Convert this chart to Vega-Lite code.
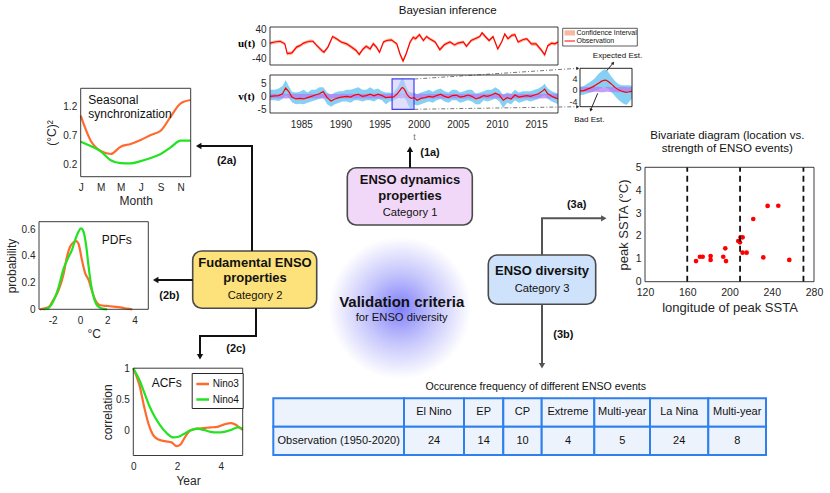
{
"$schema": "https://vega.github.io/schema/vega-lite/v6.json",
"width": 830, "height": 493,
"autosize": {"type": "none"},
"padding": 0,
"background": "white",
"config": {
  "view": {"stroke": null},
  "font": "Liberation Sans",
  "axis": {"grid": false, "ticks": false, "domain": false, "labelFont": "Liberation Sans", "labelFontSize": 10, "labelColor": "#262626", "titleFont": "Liberation Sans", "titleFontWeight": "normal", "titleFontSize": 12, "titleColor": "#262626", "labelFlush": false, "labelPadding": 4, "labelOverlap": false},
  "text": {"font": "Liberation Sans", "color": "#111111"}
},
"datasets": {
  "one": [{}],
  "glow": [{"x": 400, "y": 308}],
  "boxes": [
    {"id": "dyn", "x1": 347.3, "x2": 472.3, "y1": 167.7, "y2": 225},
    {"id": "fund", "x1": 192.7, "x2": 316.7, "y1": 251, "y2": 308.3},
    {"id": "div", "x1": 488.3, "x2": 595.7, "y1": 255, "y2": 304.3}
  ],
  "lg": [
    {"k": "box", "x1": 562.7, "x2": 637.3, "y1": 28.3, "y2": 46},
    {"k": "patch", "x1": 564.5, "x2": 575, "y1": 30.3, "y2": 35.5}
  ],
  "segs": [
    {"x": 410, "y": 167.7, "x2": 410, "y2": 150, "k": "k"},
    {"x": 252, "y": 251, "x2": 252, "y2": 146, "k": "k"},
    {"x": 253, "y": 146, "x2": 199, "y2": 146, "k": "k"},
    {"x": 192.7, "y": 280, "x2": 156, "y2": 280, "k": "k"},
    {"x": 256, "y": 308.3, "x2": 256, "y2": 336, "k": "k"},
    {"x": 257, "y": 336, "x2": 200, "y2": 336, "k": "k"},
    {"x": 200, "y": 335, "x2": 200, "y2": 357, "k": "k"},
    {"x": 542, "y": 255, "x2": 542, "y2": 218.3, "k": "g"},
    {"x": 541, "y": 218.3, "x2": 604, "y2": 218.3, "k": "g"},
    {"x": 542, "y": 304.3, "x2": 542, "y2": 366, "k": "g"},
    {"x": 605, "y": 72.7, "x2": 613, "y2": 63.2, "k": "s"},
    {"x": 597.7, "y": 93.3, "x2": 590.6, "y2": 110.3, "k": "s"},
    {"x": 414.3, "y": 79, "x2": 578, "y2": 68.3, "k": "d"},
    {"x": 414.3, "y": 109.3, "x2": 578, "y2": 106.7, "k": "d"},
    {"x": 564.5, "y": 41, "x2": 575, "y2": 41, "k": "r"}
  ],
  "heads": [
    {"x": 410, "y": 149.2, "ang": 0, "k": "k"},
    {"x": 198.7, "y": 146, "ang": 270, "k": "k"},
    {"x": 155.7, "y": 280, "ang": 270, "k": "k"},
    {"x": 200, "y": 356.8, "ang": 180, "k": "k"},
    {"x": 603.8, "y": 218.3, "ang": 90, "k": "g"},
    {"x": 542, "y": 365.8, "ang": 180, "k": "g"},
    {"x": 577.8, "y": 68.4, "ang": 86, "k": "s"},
    {"x": 577.8, "y": 106.7, "ang": 91, "k": "s"},
    {"x": 613.2, "y": 63, "ang": 40, "k": "s"},
    {"x": 590.7, "y": 110.1, "ang": 203, "k": "s"}
  ],
  "txt": [
    {"t": "Bayesian inference", "x": 447.7, "y": 11, "k": "ti"},
    {"t": "Bivariate diagram (location vs.", "x": 727.3, "y": 136, "k": "ti"},
    {"t": "strength of ENSO events)", "x": 727.3, "y": 149.3, "k": "ti"},
    {"t": "Occurence frequency of different ENSO events", "x": 535.7, "y": 386.7, "k": "tt"},
    {"t": "ENSO dynamics", "x": 410, "y": 180.3, "k": "bb"},
    {"t": "properties", "x": 410, "y": 195.7, "k": "bb"},
    {"t": "Fudamental ENSO", "x": 255, "y": 263.3, "k": "bb"},
    {"t": "properties", "x": 255, "y": 277.7, "k": "bb"},
    {"t": "ENSO diversity", "x": 542, "y": 270.7, "k": "bb"},
    {"t": "Category 1", "x": 410, "y": 212.7, "k": "bn"},
    {"t": "Category 2", "x": 255, "y": 296, "k": "bn"},
    {"t": "Category 3", "x": 542, "y": 289.3, "k": "bn"},
    {"t": "for ENSO diversity", "x": 401.7, "y": 317.7, "k": "bn"},
    {"t": "Validation criteria", "x": 401.7, "y": 301.7, "k": "vc"},
    {"t": "(1a)", "x": 430, "y": 152.7, "k": "lb"},
    {"t": "(2a)", "x": 226.7, "y": 160.7, "k": "lb"},
    {"t": "(2b)", "x": 169.3, "y": 295.7, "k": "lb"},
    {"t": "(2c)", "x": 236, "y": 349, "k": "lb"},
    {"t": "(3a)", "x": 576.7, "y": 205, "k": "lb"},
    {"t": "(3b)", "x": 563.3, "y": 335, "k": "lb"},
    {"t": "Expected Est.", "x": 617.5, "y": 55.7, "k": "sm"},
    {"t": "Bad Est.", "x": 589.3, "y": 120, "k": "sm"},
    {"t": "Confidence Interval", "x": 576.5, "y": 32.8, "k": "xs"},
    {"t": "Observation", "x": 576.5, "y": 41.3, "k": "xs"}
  ],
  "cells": [
    {"c0": 273.3, "c1": 404, "cx": 338.7, "r0": 398.3, "r1": 426.7, "cy": 412.3, "t": ""},
    {"c0": 404, "c1": 464, "cx": 434, "r0": 398.3, "r1": 426.7, "cy": 412.3, "t": "El Nino"},
    {"c0": 464, "c1": 503.3, "cx": 483.7, "r0": 398.3, "r1": 426.7, "cy": 412.3, "t": "EP"},
    {"c0": 503.3, "c1": 541.7, "cx": 522.5, "r0": 398.3, "r1": 426.7, "cy": 412.3, "t": "CP"},
    {"c0": 541.7, "c1": 594.3, "cx": 568, "r0": 398.3, "r1": 426.7, "cy": 412.3, "t": "Extreme"},
    {"c0": 594.3, "c1": 650, "cx": 622.2, "r0": 398.3, "r1": 426.7, "cy": 412.3, "t": "Multi-year"},
    {"c0": 650, "c1": 708.3, "cx": 679.2, "r0": 398.3, "r1": 426.7, "cy": 412.3, "t": "La Nina"},
    {"c0": 708.3, "c1": 766, "cx": 737.2, "r0": 398.3, "r1": 426.7, "cy": 412.3, "t": "Multi-year"},
    {"c0": 273.3, "c1": 404, "cx": 338.7, "r0": 426.7, "r1": 455, "cy": 440.5, "t": "Observation (1950-2020)"},
    {"c0": 404, "c1": 464, "cx": 434, "r0": 426.7, "r1": 455, "cy": 440.5, "t": "24"},
    {"c0": 464, "c1": 503.3, "cx": 483.7, "r0": 426.7, "r1": 455, "cy": 440.5, "t": "14"},
    {"c0": 503.3, "c1": 541.7, "cx": 522.5, "r0": 426.7, "r1": 455, "cy": 440.5, "t": "10"},
    {"c0": 541.7, "c1": 594.3, "cx": 568, "r0": 426.7, "r1": 455, "cy": 440.5, "t": "4"},
    {"c0": 594.3, "c1": 650, "cx": 622.2, "r0": 426.7, "r1": 455, "cy": 440.5, "t": "5"},
    {"c0": 650, "c1": 708.3, "cx": 679.2, "r0": 426.7, "r1": 455, "cy": 440.5, "t": "24"},
    {"c0": 708.3, "c1": 766, "cx": 737.2, "r0": 426.7, "r1": 455, "cy": 440.5, "t": "8"}
  ],
  "u": [
    {"yr": 1981.0, "u": 2, "lo": -3, "hi": 6}, {"yr": 1981.6, "u": 5, "lo": 0, "hi": 9},
    {"yr": 1982.3, "u": 7, "lo": 2, "hi": 11}, {"yr": 1982.9, "u": 0, "lo": -5, "hi": 4},
    {"yr": 1983.2, "u": -27, "lo": -32, "hi": -22}, {"yr": 1983.8, "u": -25, "lo": -30, "hi": -20},
    {"yr": 1984.4, "u": -9, "lo": -14, "hi": -4}, {"yr": 1984.8, "u": -5, "lo": -10, "hi": -1},
    {"yr": 1985.3, "u": 2, "lo": -3, "hi": 6}, {"yr": 1985.7, "u": 5, "lo": 0, "hi": 9},
    {"yr": 1986.1, "u": 7, "lo": 2, "hi": 12}, {"yr": 1986.5, "u": 7, "lo": 3, "hi": 11},
    {"yr": 1987.0, "u": -5, "lo": -10, "hi": -1}, {"yr": 1987.6, "u": -18, "lo": -24, "hi": -13},
    {"yr": 1987.9, "u": -23, "lo": -28, "hi": -18}, {"yr": 1988.4, "u": -9, "lo": -14, "hi": -4},
    {"yr": 1989.0, "u": 20, "lo": 15, "hi": 24}, {"yr": 1989.5, "u": 14, "lo": 9, "hi": 18},
    {"yr": 1990.1, "u": 5, "lo": 0, "hi": 9}, {"yr": 1990.8, "u": 0, "lo": -5, "hi": 4},
    {"yr": 1991.4, "u": -9, "lo": -14, "hi": -4}, {"yr": 1992.0, "u": -18, "lo": -23, "hi": -13},
    {"yr": 1992.4, "u": -29, "lo": -34, "hi": -24}, {"yr": 1992.9, "u": -14, "lo": -19, "hi": -9},
    {"yr": 1993.3, "u": -7, "lo": -12, "hi": -2}, {"yr": 1993.8, "u": -14, "lo": -20, "hi": -9},
    {"yr": 1994.2, "u": 0, "lo": -5, "hi": 5}, {"yr": 1994.6, "u": -9, "lo": -14, "hi": -4},
    {"yr": 1995.0, "u": -23, "lo": -28, "hi": -18}, {"yr": 1995.5, "u": 5, "lo": 0, "hi": 9},
    {"yr": 1995.9, "u": 9, "lo": 4, "hi": 13}, {"yr": 1996.5, "u": 11, "lo": 6, "hi": 15},
    {"yr": 1997.2, "u": 0, "lo": -5, "hi": 4}, {"yr": 1997.6, "u": -27, "lo": -33, "hi": -21},
    {"yr": 1998.0, "u": -47, "lo": -53, "hi": -41}, {"yr": 1998.4, "u": -27, "lo": -33, "hi": -21},
    {"yr": 1998.9, "u": 5, "lo": -1, "hi": 10}, {"yr": 1999.3, "u": 18, "lo": 12, "hi": 23},
    {"yr": 1999.6, "u": 14, "lo": 9, "hi": 19}, {"yr": 2000.1, "u": 25, "lo": 19, "hi": 30},
    {"yr": 2000.6, "u": 9, "lo": 4, "hi": 14}, {"yr": 2001.0, "u": 20, "lo": 15, "hi": 24},
    {"yr": 2001.4, "u": 14, "lo": 9, "hi": 18}, {"yr": 2002.1, "u": 5, "lo": 0, "hi": 9},
    {"yr": 2002.7, "u": -16, "lo": -21, "hi": -11}, {"yr": 2003.3, "u": -2, "lo": -7, "hi": 3},
    {"yr": 2004.0, "u": 5, "lo": 0, "hi": 9}, {"yr": 2004.6, "u": -3, "lo": -8, "hi": 1},
    {"yr": 2005.0, "u": 2, "lo": -3, "hi": 6}, {"yr": 2005.7, "u": 5, "lo": 0, "hi": 9},
    {"yr": 2006.1, "u": -7, "lo": -12, "hi": -2}, {"yr": 2006.7, "u": 9, "lo": 4, "hi": 13},
    {"yr": 2007.4, "u": 16, "lo": 11, "hi": 20}, {"yr": 2007.8, "u": 20, "lo": 15, "hi": 24},
    {"yr": 2008.1, "u": 30, "lo": 24, "hi": 34}, {"yr": 2008.6, "u": 18, "lo": 13, "hi": 22},
    {"yr": 2009.0, "u": 9, "lo": 4, "hi": 13}, {"yr": 2009.5, "u": 20, "lo": 15, "hi": 24},
    {"yr": 2010.1, "u": -14, "lo": -19, "hi": -9}, {"yr": 2010.6, "u": 5, "lo": 0, "hi": 9},
    {"yr": 2011.0, "u": 27, "lo": 22, "hi": 31}, {"yr": 2011.4, "u": 14, "lo": 9, "hi": 18},
    {"yr": 2011.9, "u": 23, "lo": 18, "hi": 28}, {"yr": 2012.3, "u": 25, "lo": 20, "hi": 30},
    {"yr": 2012.7, "u": 5, "lo": 0, "hi": 9}, {"yr": 2013.3, "u": 11, "lo": 6, "hi": 15},
    {"yr": 2013.8, "u": 14, "lo": 9, "hi": 18}, {"yr": 2014.4, "u": 0, "lo": -5, "hi": 5},
    {"yr": 2015.0, "u": 0, "lo": -6, "hi": 5}, {"yr": 2015.7, "u": -18, "lo": -24, "hi": -13},
    {"yr": 2016.1, "u": -30, "lo": -36, "hi": -25}, {"yr": 2016.5, "u": -5, "lo": -10, "hi": 0},
    {"yr": 2017.0, "u": 2, "lo": -3, "hi": 6}, {"yr": 2017.4, "u": 0, "lo": -5, "hi": 4},
    {"yr": 2017.8, "u": 5, "lo": 0, "hi": 9}
  ],
  "v": [
    {"yr": 1981.0, "v": 0, "lo": -1.5, "hi": 2.5, "plo": -0.8, "phi": 0.9},
    {"yr": 1981.6, "v": 0.2, "lo": -1.5, "hi": 2.5, "plo": -0.7, "phi": 1.0},
    {"yr": 1982.1, "v": 0.3, "lo": -1.8, "hi": 3, "plo": -0.8, "phi": 0.9},
    {"yr": 1982.6, "v": 1, "lo": -1, "hi": 4, "plo": -0.7, "phi": 1.0},
    {"yr": 1983.0, "v": 3.2, "lo": 0.5, "hi": 6.3, "plo": -0.8, "phi": 0.9},
    {"yr": 1983.4, "v": 1.8, "lo": -0.5, "hi": 4, "plo": -0.7, "phi": 1.0},
    {"yr": 1983.8, "v": -0.3, "lo": -2.3, "hi": 1.8, "plo": -0.8, "phi": 0.9},
    {"yr": 1984.3, "v": -1, "lo": -3, "hi": 1.5, "plo": -0.7, "phi": 1.0},
    {"yr": 1984.8, "v": -0.8, "lo": -2.8, "hi": 1.8, "plo": -0.8, "phi": 0.9},
    {"yr": 1985.3, "v": -1, "lo": -3, "hi": 2.5, "plo": -0.7, "phi": 1.0},
    {"yr": 1985.8, "v": -0.5, "lo": -2.5, "hi": 1.5, "plo": -0.8, "phi": 0.9},
    {"yr": 1986.3, "v": 0, "lo": -2, "hi": 2.5, "plo": -0.7, "phi": 1.0},
    {"yr": 1986.8, "v": 0.5, "lo": -1.5, "hi": 2.5, "plo": -0.8, "phi": 0.9},
    {"yr": 1987.3, "v": 1, "lo": -1, "hi": 3.5, "plo": -0.7, "phi": 1.0},
    {"yr": 1987.8, "v": 1.8, "lo": -0.5, "hi": 3.5, "plo": -0.8, "phi": 0.9},
    {"yr": 1988.3, "v": -0.5, "lo": -3, "hi": 1.5, "plo": -0.7, "phi": 1.0},
    {"yr": 1988.8, "v": -1.8, "lo": -4, "hi": 0.5, "plo": -0.8, "phi": 0.9},
    {"yr": 1989.3, "v": -1, "lo": -3, "hi": 1.5, "plo": -0.7, "phi": 1.0},
    {"yr": 1989.8, "v": -0.5, "lo": -2.5, "hi": 2, "plo": -0.8, "phi": 0.9},
    {"yr": 1990.3, "v": -0.2, "lo": -2, "hi": 2, "plo": -0.7, "phi": 1.0},
    {"yr": 1990.8, "v": 0, "lo": -2, "hi": 2.5, "plo": -0.8, "phi": 0.9},
    {"yr": 1991.3, "v": -0.3, "lo": -2.5, "hi": 2.5, "plo": -0.7, "phi": 1.0},
    {"yr": 1991.8, "v": 0.5, "lo": -1.5, "hi": 3, "plo": -0.8, "phi": 0.9},
    {"yr": 1992.3, "v": 0.8, "lo": -1.5, "hi": 3.5, "plo": -0.7, "phi": 1.0},
    {"yr": 1992.8, "v": 0, "lo": -2, "hi": 2.5, "plo": -0.8, "phi": 0.9},
    {"yr": 1993.3, "v": 0.3, "lo": -1.5, "hi": 2.5, "plo": -0.7, "phi": 1.0},
    {"yr": 1993.8, "v": 0.8, "lo": -1.5, "hi": 3.5, "plo": -0.8, "phi": 0.9},
    {"yr": 1994.3, "v": 0.2, "lo": -2, "hi": 2.5, "plo": -0.7, "phi": 1.0},
    {"yr": 1994.8, "v": 0.8, "lo": -1, "hi": 3, "plo": -0.8, "phi": 0.9},
    {"yr": 1995.3, "v": 0.3, "lo": -1.5, "hi": 2, "plo": -0.7, "phi": 1.0},
    {"yr": 1995.8, "v": -0.5, "lo": -3, "hi": 1.5, "plo": -0.8, "phi": 0.9},
    {"yr": 1996.3, "v": -0.3, "lo": -2, "hi": 1.5, "plo": -0.7, "phi": 1.0},
    {"yr": 1996.6, "v": -0.3, "lo": -1.8, "hi": 1.2, "plo": -0.8, "phi": 0.9},
    {"yr": 1996.8, "v": -0.2, "lo": -1.6, "hi": 1.4, "plo": -0.6, "phi": 1.1},
    {"yr": 1997.0, "v": 0.3, "lo": -1.2, "hi": 2.2, "plo": -0.7, "phi": 1.0},
    {"yr": 1997.2, "v": 0.8, "lo": -0.8, "hi": 3.0, "plo": -0.8, "phi": 0.8},
    {"yr": 1997.4, "v": 1.5, "lo": -0.3, "hi": 4.0, "plo": -0.6, "phi": 1.0},
    {"yr": 1997.6, "v": 2.3, "lo": 0.2, "hi": 5.5, "plo": -0.7, "phi": 1.1},
    {"yr": 1997.8, "v": 3.1, "lo": 0.8, "hi": 6.6, "plo": -0.8, "phi": 0.9},
    {"yr": 1997.95, "v": 3.4, "lo": 1.0, "hi": 7.0, "plo": -0.7, "phi": 1.0},
    {"yr": 1998.1, "v": 3.0, "lo": 0.5, "hi": 6.3, "plo": -0.6, "phi": 1.1},
    {"yr": 1998.3, "v": 2.0, "lo": -0.8, "hi": 4.5, "plo": -0.8, "phi": 0.9},
    {"yr": 1998.5, "v": 0.8, "lo": -2.2, "hi": 3.0, "plo": -0.7, "phi": 0.8},
    {"yr": 1998.7, "v": 0, "lo": -3.5, "hi": 2.0, "plo": -0.8, "phi": 1.0},
    {"yr": 1998.9, "v": -0.5, "lo": -4.5, "hi": 1.6, "plo": -0.7, "phi": 1.1},
    {"yr": 1999.1, "v": -0.8, "lo": -5.0, "hi": 1.6, "plo": -0.6, "phi": 1.0},
    {"yr": 1999.25, "v": -0.6, "lo": -4.0, "hi": 1.6, "plo": -0.8, "phi": 0.9},
    {"yr": 1999.4, "v": -0.5, "lo": -3, "hi": 1.4, "plo": -0.7, "phi": 1.0},
    {"yr": 1999.8, "v": -1.5, "lo": -3.5, "hi": 0.8, "plo": -0.8, "phi": 0.9},
    {"yr": 2000.3, "v": -0.8, "lo": -3, "hi": 1.5, "plo": -0.7, "phi": 1.0},
    {"yr": 2000.8, "v": -0.5, "lo": -2.5, "hi": 2, "plo": -0.8, "phi": 0.9},
    {"yr": 2001.3, "v": 0, "lo": -2, "hi": 2.5, "plo": -0.7, "phi": 1.0},
    {"yr": 2001.8, "v": -0.3, "lo": -2.5, "hi": 1.8, "plo": -0.8, "phi": 0.9},
    {"yr": 2002.3, "v": 0.3, "lo": -1.5, "hi": 2.5, "plo": -0.7, "phi": 1.0},
    {"yr": 2002.8, "v": 0.8, "lo": -1, "hi": 3, "plo": -0.8, "phi": 0.9},
    {"yr": 2003.3, "v": 0, "lo": -2, "hi": 2, "plo": -0.7, "phi": 1.0},
    {"yr": 2003.8, "v": -0.5, "lo": -2.5, "hi": 1.5, "plo": -0.8, "phi": 0.9},
    {"yr": 2004.3, "v": 0.3, "lo": -1.5, "hi": 2.5, "plo": -0.7, "phi": 1.0},
    {"yr": 2004.8, "v": 0.5, "lo": -1.5, "hi": 2.5, "plo": -0.8, "phi": 0.9},
    {"yr": 2005.3, "v": -0.3, "lo": -2.5, "hi": 1.5, "plo": -0.7, "phi": 1.0},
    {"yr": 2005.8, "v": 0, "lo": -2, "hi": 2, "plo": -0.8, "phi": 0.9},
    {"yr": 2006.3, "v": 0.5, "lo": -1.5, "hi": 2.5, "plo": -0.7, "phi": 1.0},
    {"yr": 2006.8, "v": 0, "lo": -2, "hi": 2.5, "plo": -0.8, "phi": 0.9},
    {"yr": 2007.3, "v": -1, "lo": -3, "hi": 1, "plo": -0.7, "phi": 1.0},
    {"yr": 2007.8, "v": -0.5, "lo": -3, "hi": 1.5, "plo": -0.8, "phi": 0.9},
    {"yr": 2008.3, "v": 0.3, "lo": -1.5, "hi": 2, "plo": -0.7, "phi": 1.0},
    {"yr": 2008.8, "v": 0, "lo": -2, "hi": 2.5, "plo": -0.8, "phi": 0.9},
    {"yr": 2009.3, "v": 0.5, "lo": -1.5, "hi": 2.5, "plo": -0.7, "phi": 1.0},
    {"yr": 2009.8, "v": 1.2, "lo": -0.8, "hi": 3.5, "plo": -0.8, "phi": 0.9},
    {"yr": 2010.3, "v": 0.5, "lo": -2, "hi": 2.5, "plo": -0.7, "phi": 1.0},
    {"yr": 2010.8, "v": -1.5, "lo": -4.5, "hi": 0.5, "plo": -0.8, "phi": 0.9},
    {"yr": 2011.3, "v": -0.5, "lo": -2.5, "hi": 1.5, "plo": -0.7, "phi": 1.0},
    {"yr": 2011.8, "v": -1, "lo": -3, "hi": 1, "plo": -0.8, "phi": 0.9},
    {"yr": 2012.3, "v": 0.5, "lo": -1.5, "hi": 2.5, "plo": -0.7, "phi": 1.0},
    {"yr": 2012.8, "v": -0.3, "lo": -2.5, "hi": 1.5, "plo": -0.8, "phi": 0.9},
    {"yr": 2013.3, "v": 0, "lo": -2, "hi": 2, "plo": -0.7, "phi": 1.0},
    {"yr": 2013.8, "v": 0.3, "lo": -1.5, "hi": 2, "plo": -0.8, "phi": 0.9},
    {"yr": 2014.3, "v": 0, "lo": -2, "hi": 2, "plo": -0.7, "phi": 1.0},
    {"yr": 2014.8, "v": 0.5, "lo": -1.5, "hi": 2.5, "plo": -0.8, "phi": 0.9},
    {"yr": 2015.3, "v": 1, "lo": -1, "hi": 3, "plo": -0.7, "phi": 1.0},
    {"yr": 2015.8, "v": 2, "lo": 0, "hi": 4, "plo": -0.8, "phi": 0.9},
    {"yr": 2016.1, "v": 2.8, "lo": 0.5, "hi": 4.8, "plo": -0.7, "phi": 1.0},
    {"yr": 2016.5, "v": 1, "lo": -1, "hi": 3, "plo": -0.8, "phi": 0.9},
    {"yr": 2017.0, "v": 0, "lo": -2, "hi": 2, "plo": -0.7, "phi": 1.0},
    {"yr": 2017.4, "v": -0.5, "lo": -2.5, "hi": 1.5, "plo": -0.8, "phi": 0.9},
    {"yr": 2017.8, "v": -1, "lo": -3, "hi": 1, "plo": -0.7, "phi": 1.0}
  ],
  "seas": [
    {"m": 1, "s": "Nino3", "v": 1.046}, {"m": 2, "s": "Nino3", "v": 0.613}, {"m": 3, "s": "Nino3", "v": 0.435},
    {"m": 4, "s": "Nino3", "v": 0.383}, {"m": 5, "s": "Nino3", "v": 0.51}, {"m": 6, "s": "Nino3", "v": 0.556},
    {"m": 7, "s": "Nino3", "v": 0.625}, {"m": 8, "s": "Nino3", "v": 0.711}, {"m": 9, "s": "Nino3", "v": 0.786},
    {"m": 10, "s": "Nino3", "v": 1.029}, {"m": 11, "s": "Nino3", "v": 1.26}, {"m": 12, "s": "Nino3", "v": 1.317},
    {"m": 1, "s": "Nino4", "v": 0.596}, {"m": 2, "s": "Nino4", "v": 0.521}, {"m": 3, "s": "Nino4", "v": 0.43},
    {"m": 4, "s": "Nino4", "v": 0.275}, {"m": 5, "s": "Nino4", "v": 0.225}, {"m": 6, "s": "Nino4", "v": 0.221},
    {"m": 7, "s": "Nino4", "v": 0.26}, {"m": 8, "s": "Nino4", "v": 0.315}, {"m": 9, "s": "Nino4", "v": 0.383},
    {"m": 10, "s": "Nino4", "v": 0.498}, {"m": 11, "s": "Nino4", "v": 0.613}, {"m": 12, "s": "Nino4", "v": 0.613}
  ],
  "pdf": [
    {"x": -2.93, "s": "Nino3", "p": 0}, {"x": -2.31, "s": "Nino3", "p": 0.015}, {"x": -1.95, "s": "Nino3", "p": 0.07},
    {"x": -1.58, "s": "Nino3", "p": 0.14}, {"x": -1.21, "s": "Nino3", "p": 0.26}, {"x": -0.96, "s": "Nino3", "p": 0.39},
    {"x": -0.72, "s": "Nino3", "p": 0.47}, {"x": -0.48, "s": "Nino3", "p": 0.5}, {"x": -0.28, "s": "Nino3", "p": 0.51},
    {"x": -0.11, "s": "Nino3", "p": 0.49}, {"x": 0.14, "s": "Nino3", "p": 0.37}, {"x": 0.38, "s": "Nino3", "p": 0.27},
    {"x": 0.63, "s": "Nino3", "p": 0.22}, {"x": 0.87, "s": "Nino3", "p": 0.14}, {"x": 1.12, "s": "Nino3", "p": 0.07},
    {"x": 1.49, "s": "Nino3", "p": 0.03}, {"x": 1.98, "s": "Nino3", "p": 0.025}, {"x": 2.46, "s": "Nino3", "p": 0.02},
    {"x": 2.96, "s": "Nino3", "p": 0.015}, {"x": 3.45, "s": "Nino3", "p": 0.005}, {"x": 3.82, "s": "Nino3", "p": 0},
    {"x": -2.68, "s": "Nino4", "p": 0}, {"x": -2.31, "s": "Nino4", "p": 0.01}, {"x": -1.95, "s": "Nino4", "p": 0.06},
    {"x": -1.58, "s": "Nino4", "p": 0.16}, {"x": -1.21, "s": "Nino4", "p": 0.3}, {"x": -0.84, "s": "Nino4", "p": 0.39},
    {"x": -0.6, "s": "Nino4", "p": 0.44}, {"x": -0.35, "s": "Nino4", "p": 0.52}, {"x": -0.11, "s": "Nino4", "p": 0.58},
    {"x": 0.07, "s": "Nino4", "p": 0.605}, {"x": 0.26, "s": "Nino4", "p": 0.58}, {"x": 0.46, "s": "Nino4", "p": 0.47},
    {"x": 0.63, "s": "Nino4", "p": 0.32}, {"x": 0.8, "s": "Nino4", "p": 0.19}, {"x": 0.99, "s": "Nino4", "p": 0.095},
    {"x": 1.24, "s": "Nino4", "p": 0.03}, {"x": 1.61, "s": "Nino4", "p": 0.005}, {"x": 1.98, "s": "Nino4", "p": 0}
  ],
  "acf": [
    {"lag": 0, "s": "Nino3", "r": 1.0}, {"lag": 0.28, "s": "Nino3", "r": 0.73}, {"lag": 0.51, "s": "Nino3", "r": 0.36},
    {"lag": 0.71, "s": "Nino3", "r": 0.09}, {"lag": 0.9, "s": "Nino3", "r": -0.07}, {"lag": 1.13, "s": "Nino3", "r": -0.14},
    {"lag": 1.44, "s": "Nino3", "r": -0.17}, {"lag": 1.75, "s": "Nino3", "r": -0.19}, {"lag": 1.98, "s": "Nino3", "r": -0.25},
    {"lag": 2.14, "s": "Nino3", "r": -0.23}, {"lag": 2.37, "s": "Nino3", "r": -0.1}, {"lag": 2.6, "s": "Nino3", "r": 0.0},
    {"lag": 2.91, "s": "Nino3", "r": 0.03}, {"lag": 3.22, "s": "Nino3", "r": 0.04}, {"lag": 3.53, "s": "Nino3", "r": 0.05},
    {"lag": 3.84, "s": "Nino3", "r": 0.06}, {"lag": 4.16, "s": "Nino3", "r": 0.1}, {"lag": 4.47, "s": "Nino3", "r": 0.12},
    {"lag": 4.7, "s": "Nino3", "r": 0.09}, {"lag": 4.88, "s": "Nino3", "r": 0.04}, {"lag": 5.0, "s": "Nino3", "r": 0.01},
    {"lag": 0, "s": "Nino4", "r": 1.0}, {"lag": 0.28, "s": "Nino4", "r": 0.81}, {"lag": 0.51, "s": "Nino4", "r": 0.6},
    {"lag": 0.74, "s": "Nino4", "r": 0.39}, {"lag": 0.98, "s": "Nino4", "r": 0.22}, {"lag": 1.21, "s": "Nino4", "r": 0.09},
    {"lag": 1.52, "s": "Nino4", "r": -0.04}, {"lag": 1.83, "s": "Nino4", "r": -0.11}, {"lag": 2.06, "s": "Nino4", "r": -0.1},
    {"lag": 2.29, "s": "Nino4", "r": -0.06}, {"lag": 2.6, "s": "Nino4", "r": 0.0}, {"lag": 2.91, "s": "Nino4", "r": 0.03},
    {"lag": 3.22, "s": "Nino4", "r": 0.01}, {"lag": 3.53, "s": "Nino4", "r": -0.02}, {"lag": 3.84, "s": "Nino4", "r": -0.03},
    {"lag": 4.16, "s": "Nino4", "r": -0.02}, {"lag": 4.47, "s": "Nino4", "r": 0.01}, {"lag": 4.78, "s": "Nino4", "r": 0.05},
    {"lag": 5.0, "s": "Nino4", "r": 0.03}
  ],
  "ssta": [
    {"lon": 168.3, "peak": 0.9}, {"lon": 172, "peak": 1.09}, {"lon": 174.6, "peak": 1.09},
    {"lon": 182.1, "peak": 1.12}, {"lon": 182.1, "peak": 0.95}, {"lon": 194.1, "peak": 1.09},
    {"lon": 196, "peak": 1.46}, {"lon": 196.7, "peak": 0.9}, {"lon": 208.3, "peak": 1.78},
    {"lon": 209.9, "peak": 1.72}, {"lon": 210.5, "peak": 1.94}, {"lon": 212.4, "peak": 1.94},
    {"lon": 212.4, "peak": 1.27}, {"lon": 216.2, "peak": 1.27}, {"lon": 222.5, "peak": 2.74},
    {"lon": 236.1, "peak": 3.31}, {"lon": 246.2, "peak": 3.32}, {"lon": 232, "peak": 1.06},
    {"lon": 256.6, "peak": 0.95}
  ],
  "dash": [{"lon": 160}, {"lon": 210}, {"lon": 270}]
},
"resolve": {"scale": {"x": "independent", "y": "independent", "color": "independent"}, "axis": {"x": "independent", "y": "independent"}, "legend": {"color": "independent"}},
"layer": [
  {
    "layer": [
      {"data": {"name": "glow"},
       "mark": {"type": "point", "shape": "circle", "filled": true, "size": 20100, "opacity": 1, "strokeWidth": 0,
         "fill": {"gradient": "radial", "x1": 0.5, "y1": 0.5, "x2": 0.5, "y2": 0.5, "r1": 0, "r2": 0.5,
           "stops": [{"offset": 0, "color": "#8080fb"}, {"offset": 0.5, "color": "#c6c6fc"}, {"offset": 1, "color": "#ffffff"}]}},
       "encoding": {
         "x": {"field": "x", "type": "quantitative", "scale": {"domain": [0, 830], "range": [0, 830], "nice": false, "zero": false}, "axis": null},
         "y": {"field": "y", "type": "quantitative", "scale": {"domain": [0, 493], "range": [0, 493], "nice": false, "zero": false}, "axis": null}
       }},
      {"data": {"name": "boxes"},
       "mark": {"type": "rect", "cornerRadius": 9, "stroke": "#4a4a4a", "strokeWidth": 1.6},
       "encoding": {
         "x": {"field": "x1", "type": "quantitative", "axis": null}, "x2": {"field": "x2"},
         "y": {"field": "y1", "type": "quantitative", "axis": null}, "y2": {"field": "y2"},
         "fill": {"field": "id", "type": "nominal", "scale": {"domain": ["dyn", "fund", "div"], "range": ["#f1d8f8", "#fde17a", "#cfe2fb"]}, "legend": null}
       }},
      {"data": {"name": "lg"},
       "transform": [{"filter": "datum.k == 'box'"}],
       "mark": {"type": "rect", "fill": "#ffffff", "stroke": "#333333", "strokeWidth": 0.8},
       "encoding": {
         "x": {"field": "x1", "type": "quantitative", "axis": null}, "x2": {"field": "x2"},
         "y": {"field": "y1", "type": "quantitative", "axis": null}, "y2": {"field": "y2"}
       }},
      {"data": {"name": "lg"},
       "transform": [{"filter": "datum.k == 'patch'"}],
       "mark": {"type": "rect", "fill": "#f8b9a0"},
       "encoding": {
         "x": {"field": "x1", "type": "quantitative", "axis": null}, "x2": {"field": "x2"},
         "y": {"field": "y1", "type": "quantitative", "axis": null}, "y2": {"field": "y2"}
       }},
      {"data": {"name": "cells"},
       "mark": {"type": "rect", "fill": "#edf3fc", "stroke": "#2f80ec", "strokeWidth": 2},
       "encoding": {
         "x": {"field": "c0", "type": "quantitative", "axis": null}, "x2": {"field": "c1"},
         "y": {"field": "r0", "type": "quantitative", "axis": null}, "y2": {"field": "r1"}
       }},
      {"data": {"name": "cells"},
       "mark": {"type": "text", "fontSize": 11, "align": "center", "baseline": "middle", "color": "#111111"},
       "encoding": {
         "x": {"field": "cx", "type": "quantitative", "axis": null},
         "y": {"field": "cy", "type": "quantitative", "axis": null},
         "text": {"field": "t"}
       }},
      {"data": {"name": "segs"},
       "transform": [{"filter": "datum.k == 'k'"}],
       "mark": {"type": "rule", "color": "#111111", "strokeWidth": 2},
       "encoding": {
         "x": {"field": "x", "type": "quantitative", "axis": null}, "x2": {"field": "x2"},
         "y": {"field": "y", "type": "quantitative", "axis": null}, "y2": {"field": "y2"}
       }},
      {"data": {"name": "segs"},
       "transform": [{"filter": "datum.k == 'g'"}],
       "mark": {"type": "rule", "color": "#555555", "strokeWidth": 2},
       "encoding": {
         "x": {"field": "x", "type": "quantitative", "axis": null}, "x2": {"field": "x2"},
         "y": {"field": "y", "type": "quantitative", "axis": null}, "y2": {"field": "y2"}
       }},
      {"data": {"name": "segs"},
       "transform": [{"filter": "datum.k == 's'"}],
       "mark": {"type": "rule", "color": "#111111", "strokeWidth": 0.9},
       "encoding": {
         "x": {"field": "x", "type": "quantitative", "axis": null}, "x2": {"field": "x2"},
         "y": {"field": "y", "type": "quantitative", "axis": null}, "y2": {"field": "y2"}
       }},
      {"data": {"name": "segs"},
       "transform": [{"filter": "datum.k == 'd'"}],
       "mark": {"type": "rule", "color": "#555555", "strokeWidth": 0.8, "strokeDash": [4, 2, 1, 2]},
       "encoding": {
         "x": {"field": "x", "type": "quantitative", "axis": null}, "x2": {"field": "x2"},
         "y": {"field": "y", "type": "quantitative", "axis": null}, "y2": {"field": "y2"}
       }},
      {"data": {"name": "segs"},
       "transform": [{"filter": "datum.k == 'r'"}],
       "mark": {"type": "rule", "color": "#ff0000", "strokeWidth": 1},
       "encoding": {
         "x": {"field": "x", "type": "quantitative", "axis": null}, "x2": {"field": "x2"},
         "y": {"field": "y", "type": "quantitative", "axis": null}, "y2": {"field": "y2"}
       }},
      {"data": {"name": "heads"},
       "transform": [{"filter": "datum.k == 'k'"}],
       "mark": {"type": "point", "shape": "triangle-up", "filled": true, "size": 40, "color": "#111111", "opacity": 1},
       "encoding": {
         "x": {"field": "x", "type": "quantitative", "axis": null},
         "y": {"field": "y", "type": "quantitative", "axis": null},
         "angle": {"field": "ang", "type": "quantitative", "scale": {"domain": [0, 360], "range": [0, 360]}}
       }},
      {"data": {"name": "heads"},
       "transform": [{"filter": "datum.k == 'g'"}],
       "mark": {"type": "point", "shape": "triangle-up", "filled": true, "size": 40, "color": "#555555", "opacity": 1},
       "encoding": {
         "x": {"field": "x", "type": "quantitative", "axis": null},
         "y": {"field": "y", "type": "quantitative", "axis": null},
         "angle": {"field": "ang", "type": "quantitative", "scale": {"domain": [0, 360], "range": [0, 360]}}
       }},
      {"data": {"name": "heads"},
       "transform": [{"filter": "datum.k == 's'"}],
       "mark": {"type": "point", "shape": "triangle-up", "filled": true, "size": 12, "color": "#222222", "opacity": 1},
       "encoding": {
         "x": {"field": "x", "type": "quantitative", "axis": null},
         "y": {"field": "y", "type": "quantitative", "axis": null},
         "angle": {"field": "ang", "type": "quantitative", "scale": {"domain": [0, 360], "range": [0, 360]}}
       }},
      {"data": {"name": "txt"},
       "transform": [{"filter": "datum.k == 'ti'"}],
       "mark": {"type": "text", "fontSize": 11.5, "align": "center", "baseline": "middle", "color": "#111111"},
       "encoding": {"x": {"field": "x", "type": "quantitative", "axis": null}, "y": {"field": "y", "type": "quantitative", "axis": null}, "text": {"field": "t"}}},
      {"data": {"name": "txt"},
       "transform": [{"filter": "datum.k == 'tt'"}],
       "mark": {"type": "text", "fontSize": 10.6, "align": "center", "baseline": "middle", "color": "#111111"},
       "encoding": {"x": {"field": "x", "type": "quantitative", "axis": null}, "y": {"field": "y", "type": "quantitative", "axis": null}, "text": {"field": "t"}}},
      {"data": {"name": "txt"},
       "transform": [{"filter": "datum.k == 'bb'"}],
       "mark": {"type": "text", "fontSize": 13, "fontWeight": "bold", "align": "center", "baseline": "middle", "color": "#111111"},
       "encoding": {"x": {"field": "x", "type": "quantitative", "axis": null}, "y": {"field": "y", "type": "quantitative", "axis": null}, "text": {"field": "t"}}},
      {"data": {"name": "txt"},
       "transform": [{"filter": "datum.k == 'bn'"}],
       "mark": {"type": "text", "fontSize": 11.2, "align": "center", "baseline": "middle", "color": "#111111"},
       "encoding": {"x": {"field": "x", "type": "quantitative", "axis": null}, "y": {"field": "y", "type": "quantitative", "axis": null}, "text": {"field": "t"}}},
      {"data": {"name": "txt"},
       "transform": [{"filter": "datum.k == 'vc'"}],
       "mark": {"type": "text", "fontSize": 15, "fontWeight": "bold", "align": "center", "baseline": "middle", "color": "#111111"},
       "encoding": {"x": {"field": "x", "type": "quantitative", "axis": null}, "y": {"field": "y", "type": "quantitative", "axis": null}, "text": {"field": "t"}}},
      {"data": {"name": "txt"},
       "transform": [{"filter": "datum.k == 'lb'"}],
       "mark": {"type": "text", "fontSize": 11, "fontWeight": "bold", "align": "center", "baseline": "middle", "color": "#111111"},
       "encoding": {"x": {"field": "x", "type": "quantitative", "axis": null}, "y": {"field": "y", "type": "quantitative", "axis": null}, "text": {"field": "t"}}},
      {"data": {"name": "txt"},
       "transform": [{"filter": "datum.k == 'sm'"}],
       "mark": {"type": "text", "fontSize": 8, "align": "center", "baseline": "middle", "color": "#111111"},
       "encoding": {"x": {"field": "x", "type": "quantitative", "axis": null}, "y": {"field": "y", "type": "quantitative", "axis": null}, "text": {"field": "t"}}},
      {"data": {"name": "txt"},
       "transform": [{"filter": "datum.k == 'xs'"}],
       "mark": {"type": "text", "fontSize": 7, "align": "left", "baseline": "middle", "color": "#111111"},
       "encoding": {"x": {"field": "x", "type": "quantitative", "axis": null}, "y": {"field": "y", "type": "quantitative", "axis": null}, "text": {"field": "t"}}}
    ]
  },
  {
    "layer": [
      {"data": {"name": "u"},
       "mark": {"type": "area", "color": "#f8b9a0", "opacity": 1},
       "encoding": {
         "x": {"field": "yr", "type": "quantitative", "scale": {"domain": [1981, 2017.8], "range": [270, 558], "nice": false, "zero": false}, "axis": null},
         "y": {"field": "lo", "type": "quantitative", "scale": {"domain": [-58, 46], "range": [65, 27], "nice": false, "zero": false},
               "axis": {"orient": "left", "offset": -270, "values": [-40, 0, 40], "labelExpr": "'' + datum.value", "labelPadding": 4,
                        "title": "u(t)", "titleAngle": 0, "titleX": -24, "titleY": 43.5, "titleAlign": "center", "titleBaseline": "middle",
                        "titleFont": "Liberation Serif", "titleFontWeight": "bold", "titleFontSize": 11, "titleColor": "#000000"}},
         "y2": {"field": "hi"}
       }},
      {"data": {"name": "u"},
       "mark": {"type": "line", "color": "#ff0000", "strokeWidth": 1.2},
       "encoding": {"x": {"field": "yr", "type": "quantitative", "axis": null}, "y": {"field": "u", "type": "quantitative"}}},
      {"data": {"name": "one"},
       "mark": {"type": "rect", "filled": false, "stroke": "#262626", "strokeWidth": 0.9},
       "encoding": {"x": {"datum": 1981, "axis": null}, "x2": {"datum": 2017.8}, "y": {"datum": -58}, "y2": {"datum": 46}}}
    ]
  },
  {
    "layer": [
      {"data": {"name": "v"},
       "mark": {"type": "area", "color": "#7fcdf2", "opacity": 0.95},
       "encoding": {
         "x": {"field": "yr", "type": "quantitative", "scale": {"domain": [1981, 2017.8], "range": [270, 558], "nice": false, "zero": false},
               "axis": {"orient": "bottom", "offset": -380, "values": [1985, 1990, 1995, 2000, 2005, 2010, 2015], "labelExpr": "'' + datum.value", "labelPadding": 6,
                        "title": "t", "titleFontSize": 9, "titleColor": "#777777", "titlePadding": 3}},
         "y": {"field": "lo", "type": "quantitative", "scale": {"domain": [-6.4, 8.2], "range": [113, 75], "nice": false, "zero": false},
               "axis": {"orient": "left", "offset": -270, "values": [-5, 0, 5], "labelExpr": "'' + datum.value", "labelPadding": 4,
                        "title": "v(t)", "titleAngle": 0, "titleX": -24, "titleY": 96.5, "titleAlign": "center", "titleBaseline": "middle",
                        "titleFont": "Liberation Serif", "titleFontWeight": "bold", "titleFontSize": 11, "titleColor": "#000000"}},
         "y2": {"field": "hi"}
       }},
      {"data": {"name": "v"},
       "mark": {"type": "area", "color": "#b27ff3", "opacity": 0.75},
       "encoding": {"x": {"field": "yr", "type": "quantitative"}, "y": {"field": "plo", "type": "quantitative"}, "y2": {"field": "phi"}}},
      {"data": {"name": "one"},
       "mark": {"type": "rect", "fill": "#c6c6fa", "fillOpacity": 0.55, "stroke": "#4040f0", "strokeWidth": 1.2},
       "encoding": {"x": {"datum": 1996.6}, "x2": {"datum": 1999.4}, "y": {"datum": -5}, "y2": {"datum": 6.7}}},
      {"data": {"name": "v"},
       "mark": {"type": "line", "color": "#ff0000", "strokeWidth": 1.2},
       "encoding": {"x": {"field": "yr", "type": "quantitative"}, "y": {"field": "v", "type": "quantitative"}}},
      {"data": {"name": "one"},
       "mark": {"type": "rect", "filled": false, "stroke": "#262626", "strokeWidth": 0.9},
       "encoding": {"x": {"datum": 1981}, "x2": {"datum": 2017.8}, "y": {"datum": -6.4}, "y2": {"datum": 8.2}}}
    ]
  },
  {
    "layer": [
      {"data": {"name": "v"},
       "transform": [{"filter": "datum.yr >= 1996.6 && datum.yr <= 1999.4"}],
       "mark": {"type": "area", "color": "#7fcdf2", "opacity": 0.95, "interpolate": "monotone"},
       "encoding": {
         "x": {"field": "yr", "type": "quantitative", "scale": {"domain": [1996.6, 1999.4], "range": [580, 632], "nice": false, "zero": false}, "axis": null},
         "y": {"field": "lo", "type": "quantitative", "scale": {"domain": [-5.7, 7.4], "range": [106.7, 68.3], "nice": false, "zero": false},
               "axis": {"orient": "left", "offset": -580, "values": [-4, 0, 4], "labelExpr": "'' + datum.value", "labelPadding": 3, "labelFontSize": 9, "title": null}},
         "y2": {"field": "hi"}
       }},
      {"data": {"name": "v"},
       "transform": [{"filter": "datum.yr >= 1996.6 && datum.yr <= 1999.4"}],
       "mark": {"type": "area", "color": "#b27ff3", "opacity": 0.75, "interpolate": "monotone"},
       "encoding": {"x": {"field": "yr", "type": "quantitative", "axis": null}, "y": {"field": "plo", "type": "quantitative"}, "y2": {"field": "phi"}}},
      {"data": {"name": "v"},
       "transform": [{"filter": "datum.yr >= 1996.6 && datum.yr <= 1999.4"}],
       "mark": {"type": "line", "color": "#ff0000", "strokeWidth": 1.2, "interpolate": "monotone"},
       "encoding": {"x": {"field": "yr", "type": "quantitative", "axis": null}, "y": {"field": "v", "type": "quantitative"}}},
      {"data": {"name": "one"},
       "mark": {"type": "rect", "filled": false, "stroke": "#262626", "strokeWidth": 1},
       "encoding": {"x": {"datum": 1996.6, "axis": null}, "x2": {"datum": 1999.4}, "y": {"datum": -5.7}, "y2": {"datum": 7.4}}}
    ]
  },
  {
    "layer": [
      {"data": {"name": "seas"},
       "mark": {"type": "line", "strokeWidth": 2.2, "interpolate": "monotone"},
       "encoding": {
         "x": {"field": "m", "type": "quantitative", "scale": {"domain": [1, 12], "range": [80.7, 190.7], "nice": false, "zero": false},
               "axis": {"orient": "bottom", "offset": -316.3, "values": [1, 3, 5, 7, 9, 11], "labelExpr": "['','J','F','M','A','M','J','J','A','S','O','N','D'][datum.value]", "labelPadding": 6, "title": "Month", "titlePadding": 3}},
         "y": {"field": "v", "type": "quantitative", "scale": {"domain": [-0.01, 1.52], "range": [176.7, 88.3], "nice": false, "zero": false},
               "axis": {"orient": "left", "offset": -80.7, "values": [0.2, 0.7, 1.2], "labelExpr": "'' + datum.value", "labelPadding": 4, "title": "(°C)²", "titlePadding": 4}},
         "color": {"field": "s", "type": "nominal", "scale": {"domain": ["Nino3", "Nino4"], "range": ["#ff6b2e", "#22e322"]}, "legend": null}
       }},
      {"data": {"name": "one"},
       "mark": {"type": "rect", "filled": false, "stroke": "#262626", "strokeWidth": 0.9},
       "encoding": {"x": {"datum": 1}, "x2": {"datum": 12}, "y": {"datum": -0.01}, "y2": {"datum": 1.52}}},
      {"data": {"name": "one"},
       "mark": {"type": "text", "text": ["Seasonal", "synchronization"], "align": "left", "baseline": "top", "fontSize": 12, "lineHeight": 14, "color": "#111111"},
       "encoding": {"x": {"datum": 1.76}, "y": {"datum": 1.405}}}
    ]
  },
  {
    "layer": [
      {"data": {"name": "pdf"},
       "mark": {"type": "line", "strokeWidth": 2.2, "interpolate": "monotone"},
       "encoding": {
         "x": {"field": "x", "type": "quantitative", "scale": {"domain": [-3, 5], "range": [39, 148.3], "nice": false, "zero": false},
               "axis": {"orient": "bottom", "offset": -183.7, "values": [-2, 0, 2, 4], "labelExpr": "'' + datum.value", "labelPadding": 6, "title": "°C", "titlePadding": 3}},
         "y": {"field": "p", "type": "quantitative", "scale": {"domain": [0, 0.655], "range": [309.3, 221.7], "nice": false, "zero": false},
               "axis": {"orient": "left", "offset": -39, "values": [0, 0.2, 0.4, 0.6], "labelExpr": "'' + datum.value", "labelPadding": 4, "title": "probability", "titlePadding": 3}},
         "color": {"field": "s", "type": "nominal", "scale": {"domain": ["Nino3", "Nino4"], "range": ["#ff6b2e", "#22e322"]}, "legend": null}
       }},
      {"data": {"name": "one"},
       "mark": {"type": "rect", "filled": false, "stroke": "#262626", "strokeWidth": 0.9},
       "encoding": {"x": {"datum": -3}, "x2": {"datum": 5}, "y": {"datum": 0}, "y2": {"datum": 0.655}}},
      {"data": {"name": "one"},
       "mark": {"type": "text", "text": "PDFs", "align": "left", "baseline": "middle", "fontSize": 12, "color": "#111111"},
       "encoding": {"x": {"datum": 1.6}, "y": {"datum": 0.517}}}
    ]
  },
  {
    "layer": [
      {"data": {"name": "acf"},
       "mark": {"type": "line", "strokeWidth": 2.2, "interpolate": "monotone"},
       "encoding": {
         "x": {"field": "lag", "type": "quantitative", "scale": {"domain": [0, 5], "range": [133.3, 242.7], "nice": false, "zero": false},
               "axis": {"orient": "bottom", "offset": -37.5, "values": [0, 2, 4], "labelExpr": "'' + datum.value", "labelPadding": 6, "title": "Year", "titlePadding": 4}},
         "y": {"field": "r", "type": "quantitative", "scale": {"domain": [-0.4, 1.0], "range": [455.5, 368.2], "nice": false, "zero": false},
               "axis": {"orient": "left", "offset": -133.3, "values": [0, 0.5, 1], "labelExpr": "'' + datum.value", "labelPadding": 4, "title": "correlation", "titlePadding": 1}},
         "color": {"field": "s", "type": "nominal", "scale": {"domain": ["Nino3", "Nino4"], "range": ["#ff6b2e", "#22e322"]},
                   "legend": {"orient": "none", "legendX": 191.7, "legendY": 373, "title": null, "direction": "vertical", "strokeColor": "#262626", "fillColor": "#ffffff", "padding": 3, "rowPadding": 2.5, "symbolType": "stroke", "symbolSize": 160, "symbolStrokeWidth": 2.5, "labelFontSize": 10, "labelColor": "#111111", "labelOffset": 2, "offset": 0}}
       }},
      {"data": {"name": "one"},
       "mark": {"type": "rect", "filled": false, "stroke": "#262626", "strokeWidth": 0.9},
       "encoding": {"x": {"datum": 0}, "x2": {"datum": 5}, "y": {"datum": -0.4}, "y2": {"datum": 1.0}}},
      {"data": {"name": "one"},
       "mark": {"type": "text", "text": "ACFs", "align": "left", "baseline": "middle", "fontSize": 12, "color": "#111111"},
       "encoding": {"x": {"datum": 0.84}, "y": {"datum": 0.77}}}
    ]
  },
  {
    "layer": [
      {"data": {"name": "ssta"},
       "mark": {"type": "point", "shape": "circle", "filled": true, "size": 22, "color": "#ff0000", "opacity": 1},
       "encoding": {
         "x": {"field": "lon", "type": "quantitative", "scale": {"domain": [120, 280], "range": [645, 814], "nice": false, "zero": false},
               "axis": {"orient": "bottom", "offset": -211.3, "values": [120, 160, 200, 240, 280], "labelExpr": "'' + datum.value", "labelFontSize": 10.5, "labelPadding": 6, "title": "longitude of peak SSTA", "titleFontSize": 13, "titlePadding": 3}},
         "y": {"field": "peak", "type": "quantitative", "scale": {"domain": [0, 5], "range": [281.7, 167.3], "nice": false, "zero": false},
               "axis": {"orient": "left", "offset": -645, "values": [0, 1, 2, 3, 4, 5], "labelExpr": "'' + datum.value", "labelFontSize": 10.5, "labelPadding": 4, "title": "peak SSTA (°C)", "titleFontSize": 13, "titlePadding": 5}}
       }},
      {"data": {"name": "dash"},
       "mark": {"type": "rule", "color": "#111111", "strokeWidth": 1.8, "strokeDash": [6, 4]},
       "encoding": {"x": {"field": "lon", "type": "quantitative"}, "y": {"datum": 0}, "y2": {"datum": 5}}},
      {"data": {"name": "one"},
       "mark": {"type": "rect", "filled": false, "stroke": "#262626", "strokeWidth": 0.9},
       "encoding": {"x": {"datum": 120}, "x2": {"datum": 280}, "y": {"datum": 0}, "y2": {"datum": 5}}}
    ]
  }
]
}
